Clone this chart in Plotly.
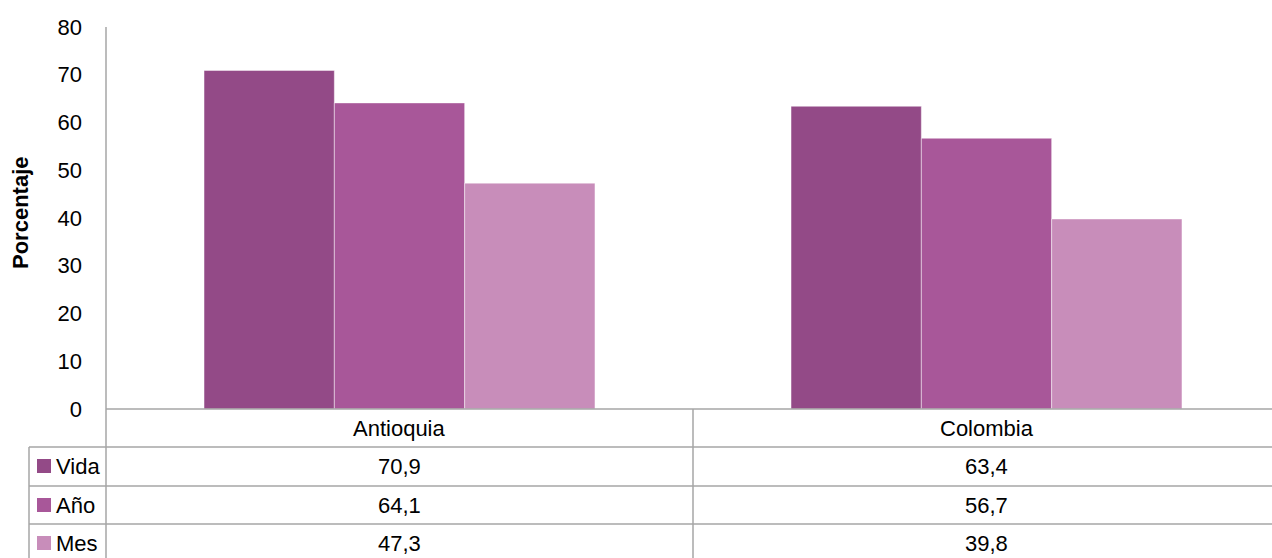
import plotly.graph_objects as go

categories = ["Antioquia", "Colombia"]
series_names = ["Vida", "Año", "Mes"]
vida = [70.9, 63.4]
anio = [64.1, 56.7]
mes = [47.3, 39.8]
colors = ["#934A87", "#A85799", "#C88DBA"]
y_ticks = [0, 10, 20, 30, 40, 50, 60, 70, 80]

W, H = 1272, 558
FONT = "Liberation Sans, Arial, sans-serif"
GRID = "#a6a6a6"


def px(x):
    return x / W


def py(y):
    return 1 - y / H


fig = go.Figure()
for name, vals, col in zip(series_names, [vida, anio, mes], colors):
    fig.add_trace(go.Bar(
        x=categories, y=vals, name=name,
        marker=dict(color=col, line=dict(color="rgba(255,255,255,0.45)", width=1)),
        showlegend=False,
    ))

# table grid: category row + three data rows
shapes = []
row_lines = [409, 447, 486, 524]
for i, yl in enumerate(row_lines):
    x0 = 106 if i == 0 else 29
    shapes.append(dict(type="line", xref="paper", yref="paper",
                       x0=px(x0), x1=1, y0=py(yl), y1=py(yl),
                       line=dict(color=GRID, width=1.5)))
shapes.append(dict(type="line", xref="paper", yref="paper", x0=px(106), x1=px(106),
                   y0=py(27), y1=0, line=dict(color=GRID, width=1.5)))
shapes.append(dict(type="line", xref="paper", yref="paper", x0=px(29), x1=px(29),
                   y0=py(447), y1=0, line=dict(color=GRID, width=1.5)))
shapes.append(dict(type="line", xref="paper", yref="paper", x0=px(693), x1=px(693),
                   y0=py(409), y1=0, line=dict(color=GRID, width=1.5)))

annotations = []
row_centers = [466, 505, 543]
for cat in categories:
    annotations.append(dict(x=cat, xref="x", y=py(428), yref="paper", text=cat,
                            xanchor="center", yanchor="middle",
                            showarrow=False, font=dict(size=22, color="#000000")))
for r, (name, vals, col) in enumerate(zip(series_names, [vida, anio, mes], colors)):
    yc = row_centers[r]
    shapes.append(dict(type="rect", xref="paper", yref="paper",
                       x0=px(37), x1=px(51), y0=py(yc - 7), y1=py(yc + 7),
                       fillcolor=col, line=dict(width=0)))
    annotations.append(dict(x=px(54), xref="paper", y=py(yc), yref="paper", text=name,
                            xanchor="left", yanchor="middle",
                            showarrow=False, font=dict(size=22, color="#000000")))
    for cat, v in zip(categories, vals):
        annotations.append(dict(x=cat, xref="x", y=py(yc), yref="paper",
                                text=f"{v:.1f}".replace(".", ","),
                                xanchor="center", yanchor="middle",
                                showarrow=False, font=dict(size=22, color="#000000")))

annotations.append(dict(x=px(20), xref="paper", y=py(213), yref="paper", text="<b>Porcentaje</b>",
                        xanchor="center", yanchor="middle",
                        textangle=-90, showarrow=False, font=dict(size=22, color="#000000")))

# the original plot area runs a little past the right edge of the image
x_end = -0.5 + 2 * (W - 106) / 1174

fig.update_layout(
    width=W, height=H,
    margin=dict(l=0, r=0, t=0, b=0, pad=0),
    paper_bgcolor="white", plot_bgcolor="white",
    font=dict(family=FONT, size=22, color="#000000"),
    barmode="group", bargap=0.334, bargroupgap=0,
    xaxis=dict(domain=[px(106), 1], range=[-0.5, x_end], showticklabels=False, showgrid=False,
               zeroline=False, showline=False, ticks="", automargin=False),
    yaxis=dict(domain=[py(409), py(27)], range=[0, 80], tickvals=y_ticks,
               showgrid=False, zeroline=False, showline=False, ticks="",
               ticklabelstandoff=23, tickfont=dict(size=22), automargin=False),
    shapes=shapes, annotations=annotations,
)

fig.write_html("out.html", config={"displayModeBar": False},
               post_script="document.body.style.margin='0';document.body.style.overflow='hidden';")
